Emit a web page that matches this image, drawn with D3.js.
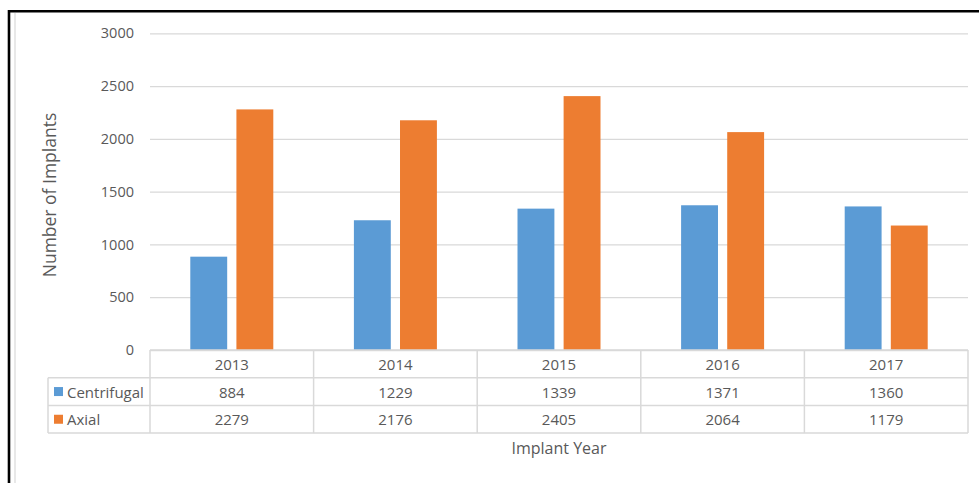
<!DOCTYPE html>
<html>
<head>
<meta charset="utf-8">
<script src="https://cdn.jsdelivr.net/npm/d3@7"></script>
<style>
  html, body { margin: 0; padding: 0; background: #fff; }
  svg { display: block; font-family: "Open Sans", "Noto Sans", sans-serif; }
</style>
</head>
<body>
<svg id="chart" width="979" height="483"></svg>
<script>
// Implant counts by year and pump type
const years = ["2013", "2014", "2015", "2016", "2017"];
const seriesNames = ["Centrifugal", "Axial"];
const centrifugal = [884, 1229, 1339, 1371, 1360];
const axial = [2279, 2176, 2405, 2064, 1179];
const yTicks = [0, 500, 1000, 1500, 2000, 2500, 3000];
const colors = ["#5B9BD5", "#ED7D31"];

const series = [centrifugal, axial];
const W = 979, H = 483;
const plot = { left: 150, right: 968, top: 33.3, bottom: 350 };
const rowH = 27.7;
const textColor = "#595959";
const gridColor = "#d9d9d9";

const svg = d3.select("#chart");

const x = d3.scaleBand().domain(years).range([plot.left, plot.right]);
const y = d3.scaleLinear().domain([0, 3000]).range([plot.bottom, plot.top]);
const inner = d3.scaleBand().domain(seriesNames).range([0, 83]).paddingInner(0.2);

// Outer frame
svg.append("line").attr("x1", 15).attr("x2", 15).attr("y1", 13).attr("y2", H)
  .attr("stroke", "#e0e0e0").attr("stroke-width", 1.5);
svg.append("line").attr("x1", 9).attr("x2", 9).attr("y1", 10).attr("y2", H)
  .attr("stroke", "#000").attr("stroke-width", 2.6);
svg.append("line").attr("x1", 8).attr("x2", W).attr("y1", 11.2).attr("y2", 11.2)
  .attr("stroke", "#000").attr("stroke-width", 2.6);

// Gridlines and value axis
const yAxis = d3.axisLeft(y).tickValues(yTicks).tickFormat(d3.format("d"))
  .tickSize(-(plot.right - plot.left)).tickPadding(16);
const gy = svg.append("g").attr("transform", `translate(${plot.left},0)`).call(yAxis);
gy.select(".domain").remove();
gy.selectAll(".tick line").attr("stroke", gridColor).attr("stroke-width", 1.3);
gy.selectAll(".tick text").attr("fill", textColor).attr("font-size", 14.5)
  .attr("font-family", "'Open Sans', sans-serif");

// Bars
years.forEach((yr, i) => {
  const gx = x(yr) + x.bandwidth() / 2 - 41.5;
  seriesNames.forEach((name, s) => {
    const v = series[s][i];
    svg.append("rect")
      .attr("x", gx + inner(name))
      .attr("y", y(v))
      .attr("width", inner.bandwidth())
      .attr("height", y(0) - y(v))
      .attr("fill", colors[s]);
  });
});

// Data table beneath the plot
const tbl = svg.append("g").attr("stroke", gridColor).attr("stroke-width", 1.5).attr("fill", "none");
const rows = [plot.bottom, plot.bottom + rowH, plot.bottom + 2 * rowH, plot.bottom + 3 * rowH];
tbl.append("line").attr("x1", plot.left).attr("x2", plot.right).attr("y1", rows[0]).attr("y2", rows[0]);
[1, 2, 3].forEach(r => {
  tbl.append("line").attr("x1", 48).attr("x2", plot.right).attr("y1", rows[r]).attr("y2", rows[r]);
});
tbl.append("line").attr("x1", 48).attr("x2", 48).attr("y1", rows[1]).attr("y2", rows[3]);
years.forEach(yr => {
  tbl.append("line").attr("x1", x(yr)).attr("x2", x(yr)).attr("y1", rows[0]).attr("y2", rows[3]);
});
tbl.append("line").attr("x1", plot.right).attr("x2", plot.right).attr("y1", rows[0]).attr("y2", rows[3]);

const txt = svg.append("g").attr("fill", textColor).attr("font-size", 15)
  .attr("text-anchor", "middle").attr("dominant-baseline", "central");
years.forEach((yr, i) => {
  const cx = x(yr) + x.bandwidth() / 2;
  txt.append("text").attr("x", cx).attr("y", rows[0] + rowH / 2).text(yr);
  series.forEach((vals, s) => {
    txt.append("text").attr("x", cx).attr("y", rows[s + 1] + rowH / 2).text(vals[i]);
  });
});

// Legend keys in the table
seriesNames.forEach((name, s) => {
  const cy = rows[s + 1] + rowH / 2;
  svg.append("rect").attr("x", 54).attr("y", cy - 4.5).attr("width", 9).attr("height", 9).attr("fill", colors[s]);
  svg.append("text").attr("x", 67).attr("y", cy).attr("dominant-baseline", "central")
    .attr("fill", textColor).attr("font-size", 15).text(name);
});

// Axis titles
svg.append("text")
  .attr("transform", `translate(56,195) rotate(-90)`)
  .attr("text-anchor", "middle").attr("fill", textColor).attr("font-size", 17.5)
  .text("Number of Implants");
svg.append("text")
  .attr("x", (plot.left + plot.right) / 2).attr("y", 448)
  .attr("text-anchor", "middle").attr("dominant-baseline", "central")
  .attr("fill", textColor).attr("font-size", 16)
  .text("Implant Year");
</script>
</body>
</html>
